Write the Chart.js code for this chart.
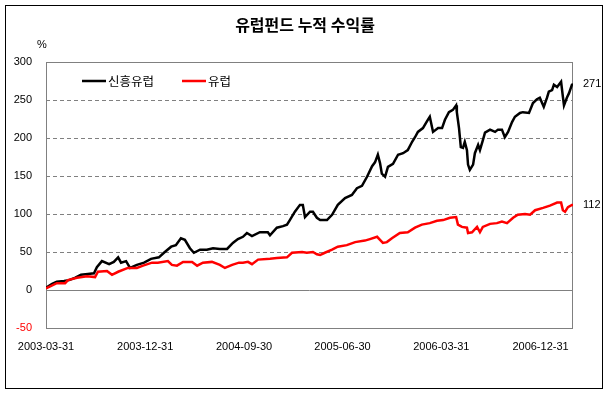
<!DOCTYPE html>
<html>
<head>
<meta charset="utf-8">
<script src="https://cdn.jsdelivr.net/npm/chart.js@4/dist/chart.umd.min.js"></script>
<style>
  html, body { margin: 0; padding: 0; background: #fff; }
</style>
</head>
<body>
<canvas id="fundChart" width="611" height="395"></canvas>
<script>
// Cumulative return (%) of two fund groups, days counted from 2003-03-31
const chartTitle = '유럽펀드 누적 수익률';
const seriesNames = ['신흥유럽', '유럽'];
const seriesColors = ['#000000', '#ff0000'];

const tickDays = [0, 275, 549, 822, 1096, 1371];
const tickLabels = ['2003-03-31', '2003-12-31', '2004-09-30', '2005-06-30', '2006-03-31', '2006-12-31'];

const emergingDays = [0, 17, 30, 50, 64, 80, 97, 116, 133, 141, 155, 175, 188, 200, 208, 222, 233, 252, 272, 291,
  313, 327, 347, 360, 374, 385, 399, 410, 427, 446, 463, 482, 502, 518, 532, 546, 557, 571, 593, 615,
  621, 640, 657, 668, 676, 690, 704, 712, 718, 732, 740, 751, 760, 779, 793, 809, 829, 848, 862, 876,
  890, 904, 912, 920, 926, 931, 940, 948, 962, 976, 990, 1003, 1015, 1023, 1031, 1045, 1056, 1064, 1073, 1087,
  1098, 1106, 1117, 1128, 1137, 1139, 1145, 1150, 1156, 1161, 1167, 1170, 1175, 1184, 1189, 1198, 1203, 1211, 1217, 1231,
  1245, 1253, 1264, 1272, 1281, 1292, 1300, 1314, 1322, 1339, 1350, 1361, 1369, 1380, 1389, 1394, 1403, 1408, 1417, 1428,
  1433, 1436, 1444, 1450, 1458, 1461];
const emergingValues = [3, 8, 11, 12, 13, 16, 20, 21, 22, 30, 38, 34, 37, 43, 36, 38, 29, 33, 36, 41,
  43, 49, 57, 59, 68, 66, 55, 49, 53, 53, 55, 54, 54, 62, 67, 70, 75, 71, 76, 76,
  72, 82, 84, 86, 92, 103, 112, 112, 96, 103, 103, 95, 92, 92, 99, 112, 121, 125, 134, 137,
  149, 163, 168, 178, 167, 153, 149, 162, 166, 178, 180, 184, 195, 201, 208, 213, 222, 228, 208, 213,
  213, 224, 234, 237, 243, 234, 213, 188, 187, 195, 184, 165, 158, 165, 180, 191, 184, 197, 207, 211,
  208, 211, 211, 201, 208, 221, 228, 233, 234, 233, 246, 251, 253, 241, 253, 261, 263, 270, 267, 274,
  254, 243, 253, 259, 270, 271];

const europeDays = [0, 30, 53, 61, 86, 114, 136, 144, 169, 183, 200, 227, 252, 269, 294, 310, 338, 349, 363, 380,
  405, 419, 435, 460, 482, 496, 516, 535, 546, 560, 571, 588, 621, 640, 668, 682, 710, 723, 740, 751,
  760, 773, 793, 809, 834, 857, 884, 898, 918, 926, 934, 945, 959, 981, 1003, 1023, 1042, 1064, 1084, 1101,
  1120, 1137, 1142, 1153, 1167, 1170, 1181, 1195, 1203, 1211, 1231, 1250, 1264, 1278, 1295, 1308, 1328, 1342, 1356, 1378,
  1397, 1417, 1428, 1433, 1439, 1447, 1458, 1461];
const europeValues = [2, 9, 9, 13, 16, 18, 17, 24, 25, 20, 24, 29, 29, 32, 36, 36, 38, 33, 32, 37,
  37, 32, 36, 37, 33, 29, 33, 36, 36, 37, 34, 40, 41, 42, 43, 49, 50, 49, 50, 47,
  46, 49, 53, 57, 59, 63, 65, 67, 70, 66, 62, 63, 68, 75, 76, 82, 86, 88, 91, 92,
  95, 96, 86, 83, 82, 75, 76, 83, 76, 83, 87, 88, 90, 88, 95, 99, 100, 99, 105, 108,
  111, 115, 115, 105, 103, 109, 112, 112];

const toPoints = (days, values) => days.map((d, i) => ({ x: d, y: values[i] }));

const FONT = "'Liberation Sans', Arial, sans-serif";
const KFONT = "'Noto Sans CJK KR', sans-serif";

const decorations = {
    id: 'decorations',
    beforeDraw(chart) {
        const { ctx, width, height } = chart;
        ctx.save();
        ctx.fillStyle = '#ffffff';
        ctx.fillRect(0, 0, width, height);
        ctx.restore();
    },
    beforeDatasetsDraw(chart) {
        const { ctx, chartArea: a } = chart;
        ctx.save();
        ctx.strokeStyle = '#808080';
        ctx.lineWidth = 1;
        ctx.strokeRect(Math.round(a.left) + 0.5, Math.round(a.top) + 0.5,
            Math.round(a.right - a.left) - 1, Math.round(a.bottom - a.top));
        ctx.restore();
    },
    afterDraw(chart) {
        const { ctx, chartArea: a, scales } = chart;
        ctx.save();
        // outer frame
        ctx.strokeStyle = '#000000';
        ctx.lineWidth = 1;
        ctx.strokeRect(5.5, 5.5, 597, 383);

        // title
        ctx.fillStyle = '#000000';
        ctx.font = 'bold 16px ' + KFONT;
        ctx.textAlign = 'center';
        ctx.textBaseline = 'middle';
        ctx.fillText(chartTitle, 305, 25);

        // unit
        ctx.font = '11px ' + FONT;
        ctx.fillText('%', 42, 45);

        // legend inside the plot
        ctx.font = '12.5px ' + KFONT;
        ctx.textAlign = 'left';
        let x = a.left + 36;
        const ly = a.top + 19;
        chart.data.datasets.forEach(ds => {
            ctx.strokeStyle = ds.borderColor;
            ctx.lineWidth = 2.5;
            ctx.beginPath();
            ctx.moveTo(x, ly);
            ctx.lineTo(x + 24, ly);
            ctx.stroke();
            ctx.fillStyle = '#000000';
            ctx.fillText(ds.label, x + 26, ly);
            x += 26 + ctx.measureText(ds.label).width + 28;
        });

        // last values at the right
        ctx.font = '11px ' + FONT;
        ctx.fillStyle = '#000000';
        chart.data.datasets.forEach(ds => {
            const last = ds.data[ds.data.length - 1];
            ctx.fillText(String(last.y), a.right + 10, scales.y.getPixelForValue(last.y));
        });
        ctx.restore();
    }
};

new Chart(document.getElementById('fundChart'), {
    type: 'line',
    data: {
        datasets: [{
            label: seriesNames[0],
            data: toPoints(emergingDays, emergingValues),
            borderColor: seriesColors[0],
            borderWidth: 2.5,
            pointRadius: 0,
            tension: 0,
            order: 1
        }, {
            label: seriesNames[1],
            data: toPoints(europeDays, europeValues),
            borderColor: seriesColors[1],
            borderWidth: 2.5,
            pointRadius: 0,
            tension: 0,
            order: 0
        }]
    },
    options: {
        responsive: false,
        animation: false,
        layout: { padding: { top: 62, right: 38, bottom: 0, left: 0 } },
        scales: {
            x: {
                type: 'linear',
                min: 0,
                max: 1461,
                afterFit: s => { s.height = 67; },
                afterBuildTicks: s => { s.ticks = tickDays.map(v => ({ value: v })); },
                grid: { display: false, drawTicks: false },
                border: { display: false },
                ticks: {
                    autoSkip: false,
                    maxRotation: 0,
                    padding: 12,
                    color: '#000000',
                    font: { family: FONT, size: 11 },
                    callback: v => tickLabels[tickDays.indexOf(v)]
                }
            },
            y: {
                min: -50,
                max: 300,
                afterFit: s => { s.width = 46; },
                grid: {
                    drawTicks: false,
                    lineWidth: 1,
                    color: c => (c.tick && (c.tick.value === 300 || c.tick.value === -50)) ? 'rgba(0,0,0,0)' : '#808080'
                },
                border: {
                    display: false,
                    dash: c => (c.tick && c.tick.value === 0) ? [] : [4, 3]
                },
                ticks: {
                    stepSize: 50,
                    padding: 14,
                    color: c => c.tick.value < 0 ? '#ff0000' : '#000000',
                    font: { family: FONT, size: 11 }
                }
            }
        },
        plugins: {
            legend: { display: false },
            tooltip: { enabled: false }
        }
    },
    plugins: [decorations]
});
</script>
</body>
</html>
